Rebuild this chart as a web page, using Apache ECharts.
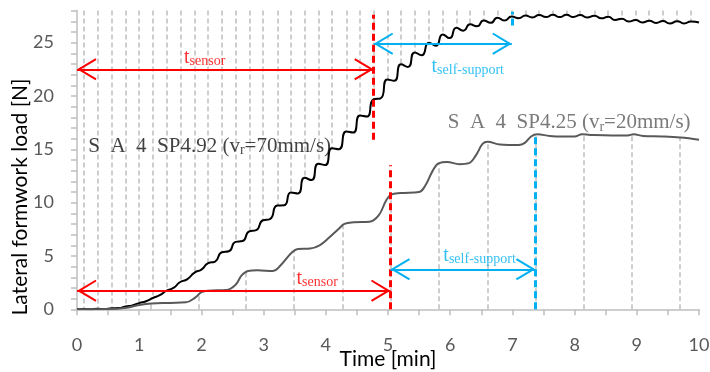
<!DOCTYPE html>
<html>
<head>
<meta charset="utf-8">
<script src="https://cdn.jsdelivr.net/npm/echarts@6/dist/echarts.min.js"></script>
<style>
  html, body { margin: 0; padding: 0; background: #fff; }
  #main { width: 710px; height: 372px; }
</style>
</head>
<body>
<div id="main"></div>
<script>
// SP4.92 (vr = 70 mm/s) - black curve, peaks and troughs of the ripple
var blackT = [0, 0.11, 0.22, 0.33, 0.44, 0.56, 0.67, 0.78, 0.89, 1.00, 1.11, 1.22, 1.33, 1.44, 1.55,
  1.66, 1.77, 1.89, 2.00, 2.11, 2.22, 2.33, 2.44, 2.55, 2.66, 2.77, 2.88, 2.99, 3.10, 3.22, 3.33,
  3.44, 3.55, 3.66, 3.77, 3.88, 3.99, 4.10, 4.21, 4.33, 4.44, 4.55, 4.66, 4.77, 4.88, 4.99, 5.10,
  5.21, 5.32, 5.43, 5.54, 5.66, 5.77, 5.88, 5.99, 6.10, 6.21, 6.32, 6.43, 6.54, 6.65, 6.76, 6.87,
  6.99, 7.10, 7.21, 7.32, 7.43, 7.54, 7.65, 7.76, 7.87, 7.98, 8.09, 8.20, 8.32, 8.43, 8.54, 8.65,
  8.76, 8.87, 8.98, 9.09, 9.20, 9.31, 9.42, 9.53, 9.65, 9.76, 9.87, 10.0];
var blackLoad = [0, 0.02, 0.0, 0.04, 0.02, 0.1, 0.12, 0.27, 0.37, 0.58, 0.76, 1.06, 1.33, 1.74, 2.0,
  2.56, 2.8, 3.44, 3.72, 4.32, 4.48, 5.35, 5.44, 6.32, 6.4, 7.3, 7.42, 8.35, 8.46, 9.73, 9.75,
  10.96, 10.86, 12.32, 12.11, 13.65, 13.52, 15.1, 15.01, 16.66, 16.57, 18.16, 18.07, 19.69, 19.77, 21.54, 21.42,
  22.96, 22.72, 24.08, 23.81, 24.99, 24.71, 25.77, 25.42, 26.39, 26.12, 26.71, 26.54, 27.08, 26.85, 27.34, 27.07,
  27.44, 27.29, 27.53, 27.36, 27.59, 27.4, 27.6, 27.4, 27.6, 27.4, 27.58, 27.36, 27.52, 27.28, 27.42, 27.13,
  27.24, 26.98, 27.11, 26.88, 27.06, 26.84, 27.02, 26.8, 27.0, 26.8, 26.98, 26.88];

// dashed marks of SP4.92, hanging from the top of the plot down to the curve
var blackMarkT = [0.11, 0.33, 0.56, 0.78, 1.00, 1.22, 1.44, 1.66, 1.89, 2.11, 2.33, 2.55, 2.77, 2.99, 3.22,
  3.44, 3.66, 3.88, 4.10, 4.33, 4.55, 4.77, 4.99, 5.21, 5.43, 5.66, 5.88, 6.10, 6.32, 6.54, 6.76,
  6.99, 7.21, 7.43, 7.65, 7.87, 8.09, 8.32, 8.54, 8.76, 8.98, 9.20, 9.42, 9.65, 9.87];
var blackMarkLoad = [0.02, 0.04, 0.1, 0.27, 0.58, 1.06, 1.74, 2.56, 3.44, 4.32, 5.35, 6.32, 7.3, 8.35, 9.73,
  10.96, 12.32, 13.65, 15.1, 16.66, 18.16, 19.69, 21.54, 22.96, 24.08, 24.99, 25.77, 26.39, 26.71, 27.08, 27.34,
  27.44, 27.53, 27.59, 27.6, 27.6, 27.58, 27.52, 27.42, 27.24, 27.11, 27.06, 27.02, 27.0, 26.98];

// SP4.25 (vr = 20 mm/s) - grey stepped curve
var grayT = [0, 0.5, 0.8, 1.0, 1.2, 1.5, 1.75, 1.9, 2.0, 2.1, 2.4, 2.55, 2.65, 2.75, 2.9, 3.15, 3.3,
  3.45, 3.55, 3.75, 3.9, 4.05, 4.2, 4.3, 4.45, 4.7, 4.85, 4.97, 5.05, 5.2, 5.5, 5.6, 5.72, 5.82,
  5.95, 6.15, 6.3, 6.42, 6.52, 6.6, 6.8, 7.1, 7.2, 7.3, 7.4, 7.6, 7.8, 8.0, 8.12, 8.25, 8.6,
  8.85, 8.95, 9.1, 9.4, 9.7, 10.0];
var grayLoad = [0, 0.02, 0.15, 0.4, 0.55, 0.6, 0.65, 1.1, 1.6, 1.75, 1.8, 2.3, 3.2, 3.6, 3.65, 3.6, 4.3,
  5.3, 5.65, 5.7, 6.0, 6.7, 7.5, 8.0, 8.15, 8.2, 8.8, 10.2, 10.75, 10.9, 11.0, 11.6, 13.0, 13.7,
  13.8, 13.6, 13.7, 14.5, 15.5, 15.7, 15.45, 15.4, 15.6, 16.2, 16.4, 16.25, 16.2, 16.2, 16.4, 16.35, 16.3,
  16.3, 16.4, 16.25, 16.2, 16.1, 15.9];

// dashed marks of SP4.25, standing on the time axis up to the curve
var grayMarkT = [0.41, 1.18, 1.95, 2.72, 3.49, 4.27, 5.04, 5.82, 6.6, 7.37, 8.14, 8.92, 9.69];
var grayMarkLoad = [0.02, 0.55, 1.45, 3.55, 5.5, 7.85, 10.7, 13.7, 15.7, 16.35, 16.4, 16.35, 16.1];

// characteristic times [min] and where the arrows sit [N]
var tSensor = [4.77, 5.04];
var tSelf = [6.99, 7.37];
var sensorArrowLoad = [22.5, 1.75];
var selfArrowLoad = [24.9, 3.75];
var sensorDashLoad = [[15.9, 27.6], [0, 13.5]];
var selfDashLoad = [[26.6, 27.9], [0, 16.5]];

var yMax = 28;

var RED = '#ff0000';
var BLUE = '#00b0f0';
var SERIF = 'Liberation Serif';

// open chevron pointing up, tip in the centre of its (square) box
var chevron = 'path://M-1.5,-1.5L-1.5,-1.5Z M37.5,37.5L37.5,37.5Z M18,18L29,36.5L27.3,37.5L18,22L8.7,37.5L7,36.5Z';

var myChart = echarts.init(document.getElementById('main'));

function zip(xs, ys) {
  return xs.map(function (x, i) { return [x, ys[i]]; });
}

function subText(main, sub, color, size, subSize, pad) {
  return {
    formatter: '{a|' + main + '}{b|' + sub + '}',
    rich: {
      a: { fontFamily: SERIF, fontSize: size, color: color },
      b: { fontFamily: SERIF, fontSize: subSize, color: color, padding: [pad, 0, 0, 0] }
    }
  };
}

function specimenText(name, speed, color) {
  return {
    formatter: '{a|S  A  4  ' + name + ' (v}{b|r}{a|=' + speed + ')}',
    rich: {
      a: { fontFamily: SERIF, fontSize: 21, color: color },
      b: { fontFamily: SERIF, fontSize: 14, color: color, padding: [9, 0, 0, 0] }
    }
  };
}

var dashPairs = [];
tSensor.forEach(function (t, i) {
  dashPairs.push([{ coord: [t, sensorDashLoad[i][0]], lineStyle: { color: RED } }, { coord: [t, sensorDashLoad[i][1]] }]);
});
tSelf.forEach(function (t, i) {
  dashPairs.push([{ coord: [t, selfDashLoad[i][0]], lineStyle: { color: BLUE } }, { coord: [t, selfDashLoad[i][1]] }]);
});

var arrowPairs = [];
for (var i = 0; i < 2; i++) {
  arrowPairs.push([{ coord: [0, sensorArrowLoad[i]], lineStyle: { color: RED } }, { coord: [tSensor[i], sensorArrowLoad[i]] }]);
  arrowPairs.push([{ coord: [tSensor[i], selfArrowLoad[i]], lineStyle: { color: BLUE } }, { coord: [tSelf[i], selfArrowLoad[i]] }]);
}

var notes = [
  { value: [0.18, 15.3], label: specimenText('SP4.92', '70mm/s', '#111111') },
  { value: [5.96, 17.5], label: specimenText('SP4.25', '20mm/s', '#595959') },
  { value: [1.72, 23.6], label: subText('t', 'sensor', RED, 20, 14, 7) },
  { value: [3.53, 2.84], label: subText('t', 'sensor', RED, 20, 14, 7) },
  { value: [5.70, 22.7], label: subText('t', 'self-support', BLUE, 20, 14, 7) },
  { value: [5.89, 5.0], label: subText('t', 'self-support', BLUE, 20, 14, 7) }
];

var option = {
  animation: false,
  backgroundColor: '#fff',
  grid: { left: 77, right: 11, top: 10.6, bottom: 62.7, outerBoundsMode: 'none', containLabel: false },
  xAxis: {
    type: 'value',
    min: 0,
    max: 10,
    interval: 0.5,
    name: 'Time [min]',
    nameLocation: 'middle',
    nameGap: 39,
    nameMoveOverlap: false,
    nameTextStyle: { color: '#000', fontFamily: 'Lato', fontSize: 21 },
    axisLine: { show: true, onZero: false, lineStyle: { color: '#bfbfbf', width: 1.5 } },
    axisTick: { show: true, length: 6, lineStyle: { color: '#bfbfbf', width: 1.5 } },
    axisLabel: {
      margin: 27,
      color: '#595959',
      fontFamily: 'Lato',
      fontSize: 18,
      formatter: function (v) { return Math.abs(v - Math.round(v)) < 1e-6 ? String(Math.round(v)) : ''; }
    },
    splitLine: { show: false }
  },
  yAxis: {
    type: 'value',
    min: 0,
    max: yMax,
    interval: 1,
    name: 'Lateral formwork load [N]',
    nameLocation: 'middle',
    nameGap: 46,
    nameMoveOverlap: false,
    nameTextStyle: { color: '#000', fontFamily: 'Lato', fontSize: 21, padding: [0, 74, 0, 0] },
    axisLine: { show: true, onZero: false, lineStyle: { color: '#bfbfbf', width: 1.5 } },
    axisTick: { show: true, length: 6, lineStyle: { color: '#bfbfbf', width: 1.5 } },
    axisLabel: {
      margin: 23,
      color: '#595959',
      fontFamily: 'Lato',
      fontSize: 18,
      formatter: function (v) { return v % 5 === 0 ? String(v) : ''; }
    },
    splitLine: { show: false }
  },
  series: [
    {
      name: 'SP4.92',
      type: 'line',
      z: 3,
      data: zip(blackT, blackLoad),
      smooth: 0.6,
      showSymbol: false,
      silent: true,
      lineStyle: { color: '#000', width: 2 },
      markLine: {
        silent: true,
        z: 1,
        symbol: 'none',
        label: { show: false },
        lineStyle: { color: '#bfbfbf', type: [5, 3], width: 1.5 },
        data: blackMarkT.map(function (t, i) {
          return [{ coord: [t, yMax] }, { coord: [t, blackMarkLoad[i]] }];
        })
      }
    },
    {
      name: 'SP4.25',
      type: 'line',
      z: 3,
      data: zip(grayT, grayLoad),
      smooth: 0.4,
      showSymbol: false,
      silent: true,
      lineStyle: { color: '#595959', width: 2 },
      markLine: {
        silent: true,
        z: 1,
        symbol: 'none',
        label: { show: false },
        lineStyle: { color: '#bfbfbf', type: [5, 3], width: 1.5 },
        data: grayMarkT.map(function (t, i) {
          return [{ coord: [t, 0] }, { coord: [t, grayMarkLoad[i]] }];
        })
      }
    },
    {
      name: 'times',
      type: 'line',
      data: [],
      markLine: {
        silent: true,
        z: 6,
        symbol: 'none',
        label: { show: false },
        lineStyle: { type: [7, 4], width: 3 },
        data: dashPairs
      }
    },
    {
      name: 'arrows',
      type: 'line',
      data: [],
      markLine: {
        silent: true,
        z: 6,
        symbol: [chevron, chevron],
        symbolSize: 39,
        label: { show: false },
        lineStyle: { type: 'solid', width: 2 },
        data: arrowPairs
      }
    },
    {
      name: 'notes',
      type: 'scatter',
      z: 8,
      silent: true,
      symbolSize: 0,
      label: { show: true, position: 'right', distance: 0 },
      data: notes
    }
  ]
};

myChart.setOption(option);
</script>
</body>
</html>
